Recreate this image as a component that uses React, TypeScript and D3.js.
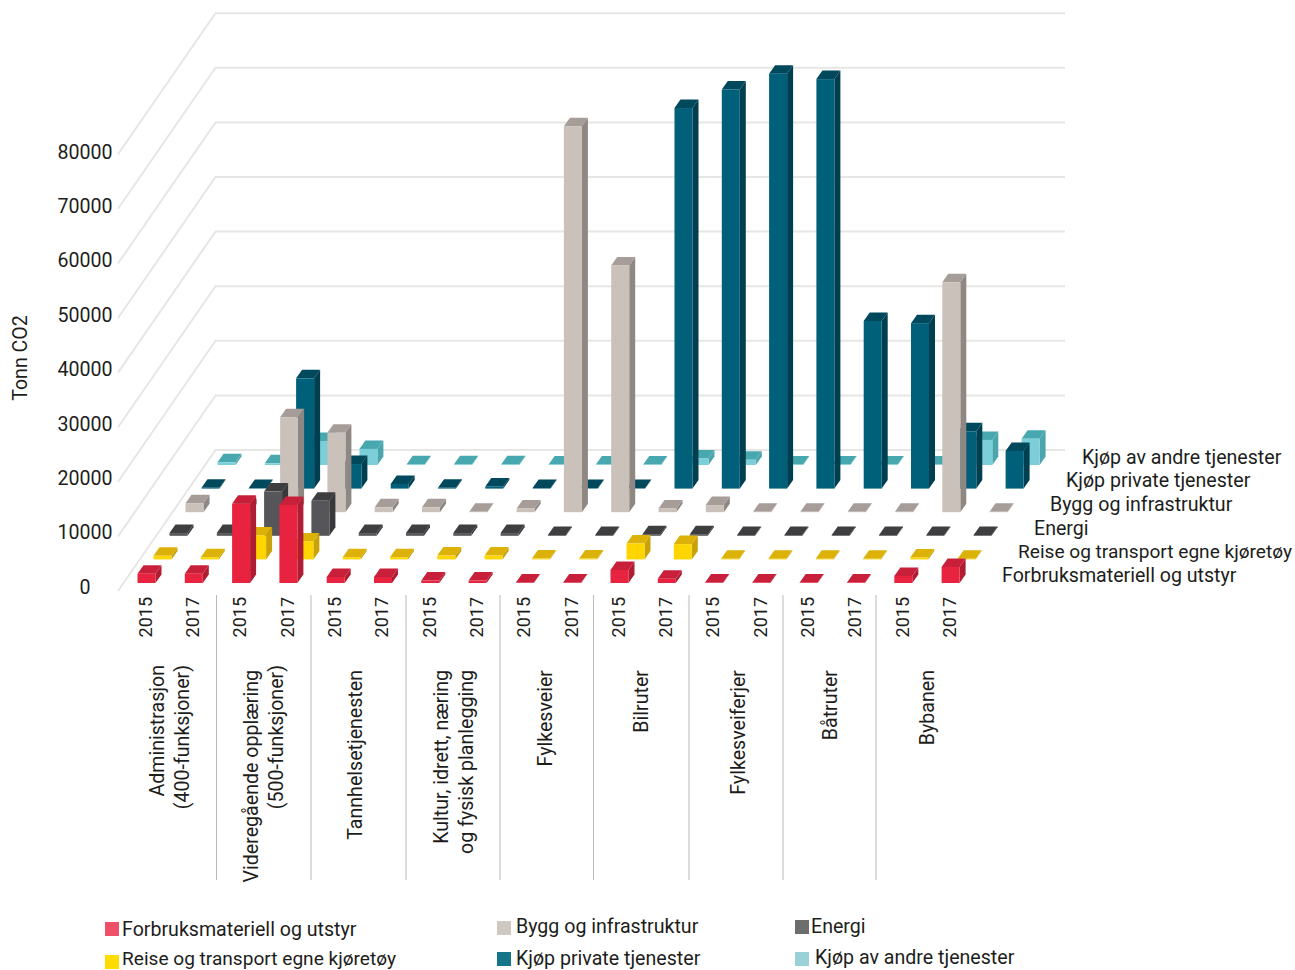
import React, { useEffect, useRef } from "react";
import * as d3 from "d3";

const years = ["2015", "2017"];
const seriesNames = [
  "Forbruksmateriell og utstyr",
  "Reise og transport egne kjøretøy",
  "Energi",
  "Bygg og infrastruktur",
  "Kjøp private tjenester",
  "Kjøp av andre tjenester",
];
const categories = [
  ["Administrasjon", "(400-funksjoner)"],
  ["Videregående opplæring", "(500-funksjoner)"],
  ["Tannhelsetjenesten"],
  ["Kultur, idrett, næring", "og fysisk planlegging"],
  ["Fylkesveier"],
  ["Bilruter"],
  ["Fylkesveiferjer"],
  ["Båtruter"],
  ["Bybanen"],
];
const forbruk = [1700, 1700, 14500, 14300, 1100, 1100, 450, 450, 100, 100, 2400, 800, 100, 100, 100, 100, 1300, 2950];
const reise = [650, 400, 4400, 3300, 400, 400, 700, 700, 150, 150, 2900, 2800, 100, 100, 100, 100, 350, 100];
const energi = [500, 500, 8100, 6400, 500, 500, 500, 500, 150, 150, 300, 300, 150, 150, 150, 150, 150, 150];
const bygg = [1650, 900, 17400, 14550, 900, 900, 100, 700, 70700, 45200, 700, 1300, 100, 100, 100, 100, 42100, 100];
const kjopPrivate = [150, 100, 20200, 4500, 850, 150, 400, 100, 100, 100, 69700, 73100, 76000, 75000, 30700, 30300, 10500, 6900];
const kjopAndre = [500, 300, 4400, 2950, 150, 150, 150, 100, 100, 100, 1200, 950, 100, 100, 100, 100, 4600, 4800];
const seriesValues = [forbruk, reise, energi, bygg, kjopPrivate, kjopAndre];
const yTicks = [0, 10000, 20000, 30000, 40000, 50000, 60000, 70000, 80000];

// front, top, side
const shades = [
  ["#e8233f", "#c8203a", "#b01c32"],
  ["#ffd500", "#dcb208", "#c9a20a"],
  ["#56565a", "#3e3e40", "#38383a"],
  ["#cac1ba", "#a69d98", "#8f8782"],
  ["#00607a", "#00485c", "#003f50"],
  ["#7ccfd8", "#48a8b0", "#4aa5ad"],
];
const legendColors = ["#ef5068", "#ffdc00", "#6d6d6d", "#cfc8c1", "#17758a", "#9ad0d8"];

// rotated category label columns and the separators between them
const categoryLabelX = [[157, 182], [251, 276], [355], [441, 466], [545], [641], [738], [830], [927]];
const separatorX = [216.5, 311, 406, 500, 593.5, 689, 783, 876];

const font = "Roboto, sans-serif";
const textColor = "#1d1d1b";

export default function App() {
  const svgRef = useRef<SVGSVGElement | null>(null);

  useEffect(() => {
    if (!svgRef.current) return;
    const svg = d3.select(svgRef.current);
    svg.selectAll("*").remove();

    const slots = d3.range(categories.length * years.length);
    const x = d3.scalePoint<number>().domain(slots).range([137.5, 941.6]);
    const rows = d3.range(seriesNames.length);
    const rowX = d3.scalePoint<number>().domain(rows).range([0, 80]);
    const rowY = d3.scalePoint<number>().domain(rows).range([583, 465]);
    const h = d3.scaleLinear().domain([0, 80000]).range([0, 436.8]);

    const barW = 18;
    const depthX = 6;
    const depthY = 8.5;

    // walls
    const wallLeft = 215.5;
    const wallRight = 1065;
    const wallBase = 450;
    const grid = svg.append("g").attr("stroke", "#e6e6e4").attr("stroke-width", 2).attr("fill", "none");
    yTicks.forEach((t) => {
      const yy = wallBase - h(t);
      grid.append("path").attr("d", `M${wallLeft - 97.5},${yy + 141}L${wallLeft},${yy}L${wallRight},${yy}`);
    });

    // y axis labels
    svg
      .append("g")
      .selectAll("text")
      .data(yTicks)
      .join("text")
      .attr("x", 85)
      .attr("y", (d) => 587 - (d / 10000) * 54.4)
      .attr("dy", "0.35em")
      .attr("text-anchor", "middle")
      .text((d) => d);

    svg
      .append("text")
      .attr("transform", "translate(20,358) rotate(-90)")
      .attr("dy", "0.35em")
      .attr("text-anchor", "middle")
      .text("Tonn CO2");

    // bars, back row first
    const bars = svg.append("g");
    [...rows].reverse().forEach((r) => {
      const g = bars.append("g");
      seriesValues[r].forEach((v, k) => {
        const x0 = (x(k) as number) + (rowX(r) as number);
        const base = rowY(r) as number;
        const top = base - h(v);
        g.append("path")
          .attr("fill", shades[r][2])
          .attr("d", `M${x0 + barW},${base}L${x0 + barW + depthX},${base - depthY}L${x0 + barW + depthX},${top - depthY}L${x0 + barW},${top}Z`);
        g.append("path")
          .attr("fill", shades[r][1])
          .attr("d", `M${x0},${top}L${x0 + depthX},${top - depthY}L${x0 + barW + depthX},${top - depthY}L${x0 + barW},${top}Z`);
        g.append("rect")
          .attr("x", x0)
          .attr("y", top)
          .attr("width", barW)
          .attr("height", h(v))
          .attr("fill", shades[r][0]);
      });
    });

    // category separators and labels
    separatorX.forEach((sx) => {
      svg
        .append("line")
        .attr("x1", sx)
        .attr("x2", sx)
        .attr("y1", 595)
        .attr("y2", 880)
        .attr("stroke", "#bdb9b4")
        .attr("stroke-width", 1);
    });
    categories.forEach((lines, i) => {
      lines.forEach((line, j) => {
        const topY = i === 0 || (i === 1 && j === 1) ? 665 : 670;
        svg
          .append("text")
          .attr("transform", `translate(${categoryLabelX[i][j]},${topY}) rotate(-90)`)
          .attr("dy", "0.35em")
          .attr("text-anchor", "end")
          .text(line);
      });
    });

    // series names along the depth axis
    svg
      .append("g")
      .selectAll("text")
      .data(rows)
      .join("text")
      .attr("x", (r) => 1002 + (rowX(r) as number))
      .attr("y", (r) => 575 - (583 - (rowY(r) as number)))
      .attr("dy", "0.35em")
      .text((r) => seriesNames[r]);

    // legend
    const legendPos = [
      { sx: 105, sy: 922, tx: 122, ty: 929 },
      { sx: 105, sy: 955, tx: 122, ty: 958.5 },
      { sx: 795, sy: 920, tx: 811, ty: 926 },
      { sx: 497, sy: 921, tx: 516, ty: 926 },
      { sx: 497, sy: 952, tx: 516, ty: 958 },
      { sx: 795, sy: 952, tx: 815, ty: 957 },
    ];
    const legend = svg.append("g");
    seriesNames.forEach((name, i) => {
      const p = legendPos[i];
      legend.append("rect").attr("x", p.sx).attr("y", p.sy).attr("width", 14).attr("height", 14).attr("fill", legendColors[i]);
      legend.append("text").attr("x", p.tx).attr("y", p.ty).attr("dy", "0.35em").text(name);
    });

    svg
      .selectAll("text")
      .attr("font-family", font)
      .attr("font-size", (_, i, nodes) =>
        (nodes[i] as SVGTextElement).textContent === seriesNames[1] ? 19.1 : 19.6
      )
      .attr("fill", textColor);

    // year labels are set a little smaller
    svg
      .append("g")
      .selectAll("text")
      .data(slots)
      .join("text")
      .attr("transform", (k) => `translate(${(x(k) as number) + 8},597) rotate(-90)`)
      .attr("dy", "0.35em")
      .attr("text-anchor", "end")
      .attr("font-family", font)
      .attr("font-size", 18)
      .attr("fill", textColor)
      .text((k) => years[k % years.length]);
  }, []);

  return (
    <svg
      ref={svgRef}
      width={1295}
      height={970}
      style={{ position: "absolute", left: 0, top: 0, display: "block", background: "#fff" }}
    />
  );
}
